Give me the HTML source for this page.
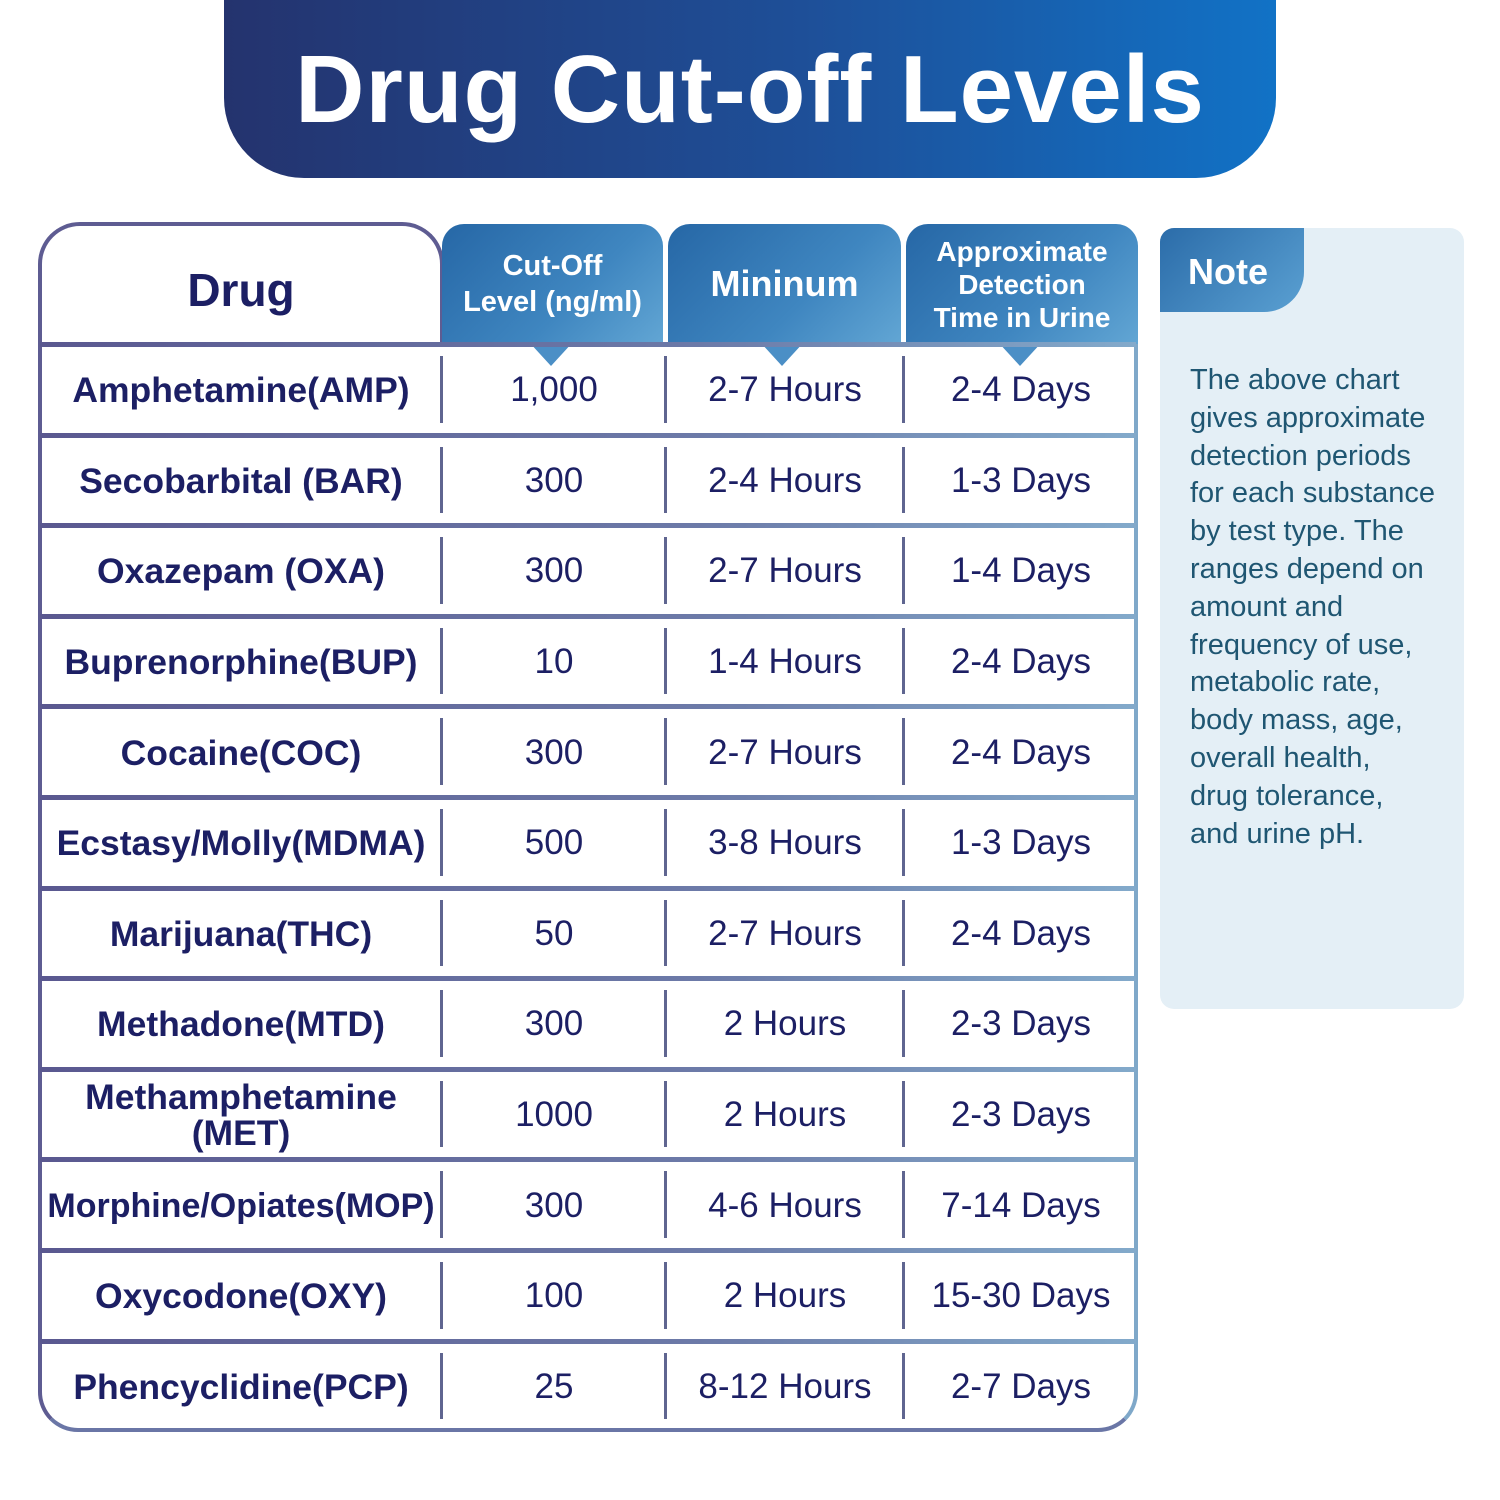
<!DOCTYPE html>
<html><head><meta charset="utf-8"><style>
*{margin:0;padding:0;box-sizing:border-box}
body{width:1500px;height:1500px;background:#fff;position:relative;overflow:hidden;font-family:"Liberation Sans",sans-serif}
.abs{position:absolute}
.banner{left:224px;top:-10px;width:1052px;height:188px;border-radius:0 0 80px 80px;background:linear-gradient(90deg,#24336e 0%,#1e4f98 55%,#1172c6 100%);color:#fff;font-weight:bold;font-size:96px;text-align:center;line-height:200px;letter-spacing:1px}
.frame{left:38px;top:340px;width:1100px;height:1092px;border:4px solid #6a76a6;border-top:none;border-radius:0 0 40px 40px;border-left-color:#5e5c92;border-right-color:#7fa8c9}
.drughead{left:38px;top:222px;width:406px;height:124px;border:4px solid #5e5c92;border-bottom:none;border-radius:42px 42px 0 0;background:#fff;color:#1c1f64;font-weight:bold;font-size:46px;text-align:center;line-height:128px}
.hcell{top:224px;height:120px;border-radius:22px 22px 0 0;background:linear-gradient(135deg,#2667a6 0%,#3f86c0 60%,#62a6d4 100%);color:#fff;font-weight:bold;display:flex;align-items:center;justify-content:center;text-align:center}
.ptr{width:0;height:0;border-left:22px solid transparent;border-right:22px solid transparent;border-top:24px solid #4b8fc6;top:342px}
.hline{left:40px;width:1096px;height:5px;background:linear-gradient(90deg,#5a5890,#6c7aa8 60%,#83aacb)}
.vline{width:3px;background:#5f6590}
.cell{color:#1c1f64;font-size:35px;text-align:center;display:flex;align-items:center;justify-content:center;line-height:36px}
.drug{font-weight:bold;font-size:35.5px}
.note{left:1160px;top:228px;width:304px;height:781px;background:#e4eff6;border-radius:14px}
.tab{left:1160px;top:228px;width:144px;height:84px;border-radius:14px 0 40px 0;background:linear-gradient(135deg,#2b6ca9,#5aa0d2);color:#fff;font-weight:bold;font-size:36px;line-height:88px;padding-left:28px}
.ntext{left:1190px;top:362px;width:290px;color:#1f5672;font-size:29px;line-height:37.8px}
</style></head><body>
<div class="abs banner">Drug Cut-off Levels</div>
<div class="abs frame"></div>
<div class="abs drughead">Drug</div>
<div class="abs hcell" style="left:442px;width:221px;font-size:29px;line-height:36px">Cut-Off<br>Level (ng/ml)</div>
<div class="abs hcell" style="left:668px;width:233px;font-size:36px">Mininum</div>
<div class="abs hcell" style="left:906px;width:232px;font-size:28px;line-height:33px">Approximate<br>Detection<br>Time in Urine</div>
<div class="abs ptr" style="left:529px"></div>
<div class="abs ptr" style="left:760px"></div>
<div class="abs ptr" style="left:998px"></div>
<div class="abs note"></div>
<div class="abs tab">Note</div>
<div class="abs ntext">The above chart<br>gives approximate<br>detection periods<br>for each substance<br>by test type. The<br>ranges depend on<br>amount and<br>frequency of use,<br>metabolic rate,<br>body mass, age,<br>overall health,<br>drug tolerance,<br>and urine pH.</div>
<div id="rows"></div>
<script>
const drugs=["Amphetamine(AMP)","Secobarbital (BAR)","Oxazepam (OXA)","Buprenorphine(BUP)","Cocaine(COC)","Ecstasy/Molly(MDMA)","Marijuana(THC)","Methadone(MTD)","Methamphetamine<br>(MET)","Morphine/Opiates(MOP)","Oxycodone(OXY)","Phencyclidine(PCP)"];
const cutoffs=["1,000","300","300","10","300","500","50","300","1000","300","100","25"];
const minimums=["2-7 Hours","2-4 Hours","2-7 Hours","1-4 Hours","2-7 Hours","3-8 Hours","2-7 Hours","2 Hours","2 Hours","4-6 Hours","2 Hours","8-12 Hours"];
const detections=["2-4 Days","1-3 Days","1-4 Days","2-4 Days","2-4 Days","1-3 Days","2-4 Days","2-3 Days","2-3 Days","7-14 Days","15-30 Days","2-7 Days"];
const root=document.getElementById('rows');
const top0=342,rh=90.6;
const cols=[[40,402],[443,222],[667,236],[905,232]];
const vx=[440,664,902];
function add(cls,style,html){const d=document.createElement('div');d.className='abs '+cls;d.style.cssText=style;if(html!==undefined)d.innerHTML=html;root.appendChild(d);return d;}
for(let i=0;i<drugs.length;i++){
  const y=top0+i*rh;
  const l=add('hline','top:'+(y)+'px');
  
  
  vx.forEach(x=>{const v=add('vline','left:'+x+'px;top:'+(y+14)+'px;height:'+(rh-24)+'px');
  
  });
  const vals=[drugs[i],cutoffs[i],minimums[i],detections[i]];
  const names=['drug-name','cutoff-value','minimum-time','detection-time'];
  vals.forEach((t,j)=>{const fs=(j===0&&i===9)?'font-size:34px;':'';
    const c=add('cell'+(j===0?' drug':''),fs+'left:'+cols[j][0]+'px;width:'+cols[j][1]+'px;top:'+(y+4)+'px;height:'+(rh-2)+'px',t);
    
    });
}
</script>
</body></html>
